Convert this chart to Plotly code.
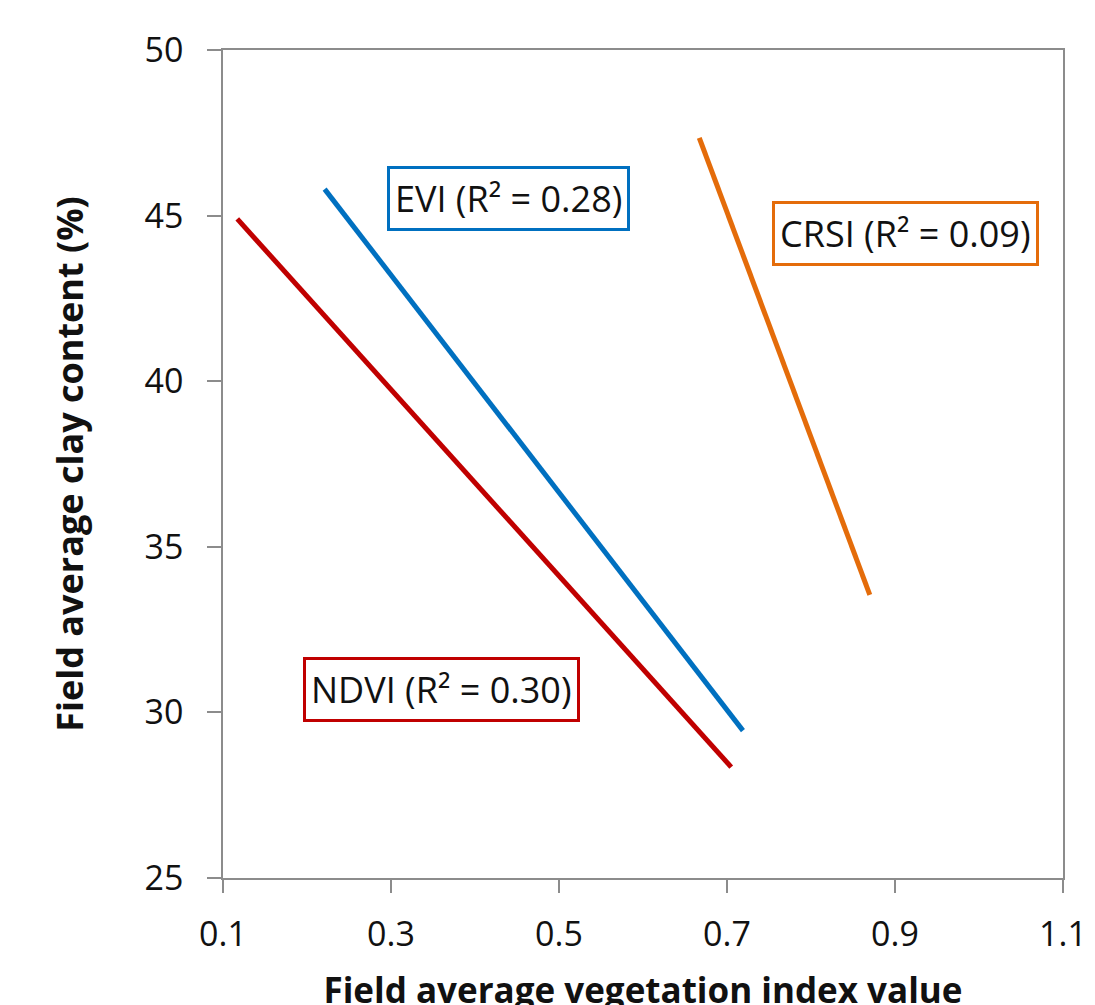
import plotly.graph_objects as go

# Trend line endpoints
ndvi_x = [0.117, 0.705]
ndvi_y = [44.9, 28.35]
evi_x = [0.221, 0.719]
evi_y = [45.8, 29.45]
crsi_x = [0.667, 0.870]
crsi_y = [47.35, 33.55]

labels = ["NDVI (R² = 0.30)", "EVI (R² = 0.28)", "CRSI (R² = 0.09)"]
label_x = [0.36, 0.44, 0.912]
label_y = [30.68, 45.53, 44.47]
colors = ["#C00000", "#0070C0", "#E46C0A"]

x_ticks = [0.1, 0.3, 0.5, 0.7, 0.9, 1.1]
y_ticks = [25, 30, 35, 40, 45, 50]

FONT = "Open Sans"

fig = go.Figure()
for xs, ys, c, name in [(ndvi_x, ndvi_y, colors[0], "NDVI"),
                        (evi_x, evi_y, colors[1], "EVI"),
                        (crsi_x, crsi_y, colors[2], "CRSI")]:
    fig.add_trace(go.Scatter(x=xs, y=ys, mode="lines", name=name,
                             line=dict(color=c, width=5), showlegend=False))

for t, lx, ly, c in zip(labels, label_x, label_y, colors):
    fig.add_annotation(x=lx, y=ly, xref="x", yref="y", text=t, showarrow=False,
                       font=dict(family=FONT, size=36, color="#111111"),
                       bordercolor=c, borderwidth=3, borderpad=5, bgcolor="white")

fig.update_layout(
    width=1095, height=1005,
    margin=dict(l=215, r=40, t=42, b=135),
    plot_bgcolor="white", paper_bgcolor="white",
    font=dict(family=FONT, color="#111111"),
    xaxis=dict(range=[0.1, 1.1], tickvals=x_ticks, ticktext=[str(v) for v in x_ticks],
               showgrid=False, zeroline=False, showline=True, linecolor="#8c8c8c",
               linewidth=1.5, mirror=True, ticks="outside", ticklen=13,
               tickcolor="#8c8c8c", tickwidth=1.5, ticklabelstandoff=12,
               tickfont=dict(size=34, family=FONT, color="#111111"),
               title=dict(text="<b>Field average vegetation index value</b>",
                          font=dict(size=35, family=FONT, color="#111111"),
                          standoff=30),
               automargin=False),
    yaxis=dict(range=[25, 50], tickvals=y_ticks,
               showgrid=False, zeroline=False, showline=True, linecolor="#8c8c8c",
               linewidth=1.5, mirror=True, ticks="outside", ticklen=14,
               tickcolor="#8c8c8c", tickwidth=1.5, ticklabelstandoff=17,
               tickfont=dict(size=34, family=FONT, color="#111111"),
               title=dict(text="<b>Field average clay content (%)</b>",
                          font=dict(size=36, family=FONT, color="#111111"),
                          standoff=50),
               automargin=False),
)

fig.write_html("out.html")
